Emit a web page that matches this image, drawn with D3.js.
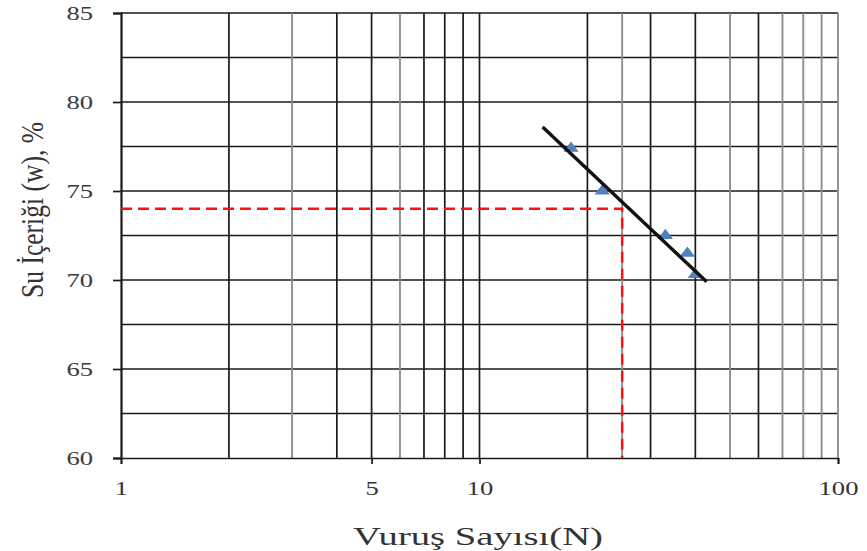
<!DOCTYPE html>
<html>
<head>
<meta charset="utf-8">
<script src="https://cdn.jsdelivr.net/npm/d3@7"></script>
<style>
  html, body { margin: 0; padding: 0; background: #fff; }
  svg { display: block; }
</style>
</head>
<body>
<svg id="chart" width="867" height="551"></svg>
<script>
// Flow-test readings: blow count N vs water content w (%)
const blowCounts = [18, 22, 33, 38, 40];
const waterContents = [77.4, 75.0, 72.5, 71.5, 70.3];

// Fitted trend line end points
const trendN = [15, 43];
const trendW = [78.6, 69.9];

// Liquid limit read at N = 25
const limitN = 25;
const limitW = 74.0;

// Axis ticks and grid
const xTickValues = [1, 5, 10, 100];
const yTickValues = [60, 65, 70, 75, 80, 85];
const yGridValues = [62.5, 65, 67.5, 70, 72.5, 75, 77.5, 80, 82.5, 85];
const xGridDark = [2, 4, 5, 7, 8, 9, 10, 20, 30, 40, 60];
const xGridLight = [3, 6, 25, 50, 70, 80, 90, 100];

const svg = d3.select("#chart");
const plotLeft = 121, plotRight = 838, plotTop = 13, plotBottom = 458;

const x = d3.scaleLog().domain([1, 100]).range([plotLeft, plotRight]);
const y = d3.scaleLinear().domain([60, 85]).range([plotBottom, plotTop]);

const font = "'Liberation Serif', 'Times New Roman', serif";
const textWiden = 1.4; // wide lettering used throughout

function widen(sel) {
  sel.each(function () {
    const w = this.getComputedTextLength();
    d3.select(this).attr("textLength", w * textWiden).attr("lengthAdjust", "spacingAndGlyphs");
  });
}

// Horizontal grid
svg.append("g").selectAll("line").data(yGridValues).join("line")
  .attr("x1", plotLeft).attr("x2", plotRight)
  .attr("y1", d => y(d)).attr("y2", d => y(d))
  .attr("stroke", "#1a1a1a").attr("stroke-width", 1.7);

// Vertical grid, light lines then dark
svg.append("g").selectAll("line").data(xGridLight).join("line")
  .attr("x1", d => x(d)).attr("x2", d => x(d))
  .attr("y1", plotTop).attr("y2", plotBottom)
  .attr("stroke", "#8a8a8a").attr("stroke-width", 1.8);
svg.append("g").selectAll("line").data(xGridDark).join("line")
  .attr("x1", d => x(d)).attr("x2", d => x(d))
  .attr("y1", plotTop).attr("y2", plotBottom)
  .attr("stroke", "#1a1a1a").attr("stroke-width", 1.7);

// X axis
const xAxis = svg.append("g").attr("transform", `translate(0,${plotBottom})`)
  .call(d3.axisBottom(x).tickValues(xTickValues).tickFormat(d3.format("d")).tickSize(6).tickPadding(17.5));
xAxis.select(".domain").attr("stroke", "#1a1a1a").attr("stroke-width", 1.7);
xAxis.selectAll(".tick line").attr("stroke", "#1a1a1a").attr("stroke-width", 1.7);
xAxis.selectAll("text").attr("font-family", font).attr("font-size", 19).attr("fill", "#333").call(widen);

// Y axis
const yAxis = svg.append("g").attr("transform", `translate(${plotLeft},0)`)
  .call(d3.axisLeft(y).tickValues(yTickValues).tickSize(8).tickPadding(20));
yAxis.select(".domain").attr("stroke", "#1a1a1a").attr("stroke-width", 2.2);
yAxis.selectAll(".tick line").attr("stroke", "#1a1a1a").attr("stroke-width", 1.7);
yAxis.selectAll("text").attr("font-family", font).attr("font-size", 19).attr("fill", "#3a3a3a").call(widen);

// Liquid limit guide lines
svg.append("path")
  .attr("d", d3.line()([[x(1), y(limitW)], [x(limitN), y(limitW)], [x(limitN), y(60)]]))
  .attr("fill", "none").attr("stroke", "#ff1010").attr("stroke-width", 2.5)
  .attr("stroke-dasharray", "11,6");

// Data markers
svg.append("g").selectAll("path").data(blowCounts).join("path")
  .attr("transform", (d, i) => `translate(${x(d)},${y(waterContents[i])}) scale(1.3,1)`)
  .attr("d", d3.symbol().type(d3.symbolTriangle).size(60))
  .attr("fill", "#4f81bd");

// Trend line
svg.append("line")
  .attr("x1", x(trendN[0])).attr("y1", y(trendW[0]))
  .attr("x2", x(trendN[1])).attr("y2", y(trendW[1]))
  .attr("stroke", "#111").attr("stroke-width", 3.4);

// Axis titles
svg.append("text")
  .attr("x", 478).attr("y", 545)
  .attr("text-anchor", "middle")
  .attr("font-family", font).attr("font-size", 26).attr("fill", "#333")
  .attr("textLength", 250).attr("lengthAdjust", "spacingAndGlyphs")
  .text("Vuruş Sayısı(N)");

svg.append("text")
  .attr("transform", "translate(43,210) rotate(-90)")
  .attr("text-anchor", "middle")
  .attr("font-family", font).attr("font-size", 32).attr("fill", "#333")
  .attr("textLength", 176).attr("lengthAdjust", "spacingAndGlyphs")
  .text("Su İçeriği (w), %");
</script>
</body>
</html>
